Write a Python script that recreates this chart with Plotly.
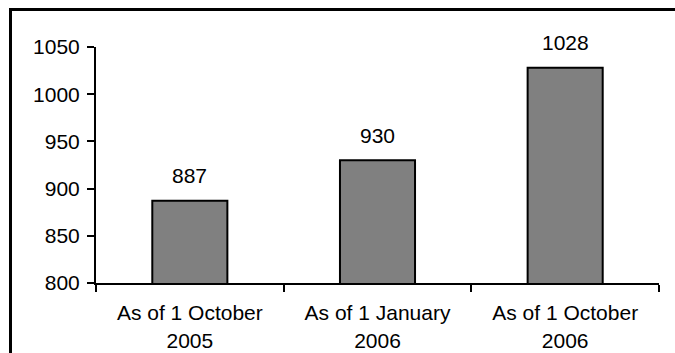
import plotly.graph_objects as go

# Data
categories = ["As of 1 October<br>2005", "As of 1 January<br>2006", "As of 1 October<br>2006"]
values = [887, 930, 1028]
y_ticks = [800, 850, 900, 950, 1000, 1050]

FONT = dict(family="Liberation Sans, Arial, sans-serif", size=21, color="black")

fig = go.Figure(
    go.Bar(
        x=categories,
        y=values,
        marker=dict(color="#808080", line=dict(color="black", width=2)),
        showlegend=False,
        hoverinfo="skip",
    )
)

# Value labels above each bar
for cat, val in zip(categories, values):
    fig.add_annotation(
        x=cat, y=val, text=str(val), showarrow=False,
        yanchor="middle", yshift=25, font=FONT,
    )

# Outer frame around the chart
fig.add_shape(
    type="rect", xref="paper", yref="paper",
    x0=(10.5 - 96) / 563, x1=2, y0=-1, y1=(283 - 9.5) / 236,
    line=dict(color="black", width=3), fillcolor="rgba(0,0,0,0)",
)

fig.update_layout(
    width=675, height=353,
    margin=dict(l=96, r=16, t=47, b=70),
    paper_bgcolor="white", plot_bgcolor="white",
    bargap=0.6,
    font=FONT,
)
fig.update_xaxes(
    showline=True, linecolor="black", linewidth=2,
    ticks="outside", tickson="boundaries", ticklen=7, tickwidth=2, tickcolor="black",
    showgrid=False, tickfont=FONT, ticklabelstandoff=10, automargin=False,
)
fig.update_yaxes(
    range=[800, 1050], tickvals=y_ticks,
    showline=True, linecolor="black", linewidth=2,
    ticks="outside", ticklen=7, tickwidth=2, tickcolor="black",
    showgrid=False, zeroline=False, tickfont=FONT, ticklabelstandoff=3, automargin=False,
)

fig.write_html("out.html")
